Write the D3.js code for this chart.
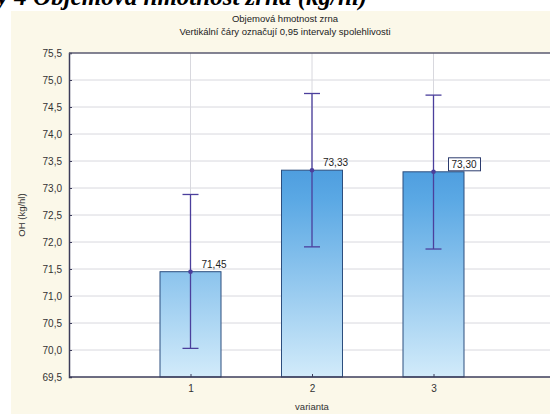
<!DOCTYPE html>
<html>
<head>
<meta charset="utf-8">
<script src="https://cdn.jsdelivr.net/npm/d3@7"></script>
<style>
  body { margin: 0; background: #fff; }
  svg { display: block; }
</style>
</head>
<body>
<script>
// data
const categories = [1, 2, 3];
const means = [71.45, 73.33, 73.30];
const lowerCI = [70.03, 71.91, 71.87];
const upperCI = [72.88, 74.75, 74.72];
const yTicks = [69.5, 70.0, 70.5, 71.0, 71.5, 72.0, 72.5, 73.0, 73.5, 74.0, 74.5, 75.0, 75.5];
const titleLines = ["Objemová hmotnost zrna", "Vertikální čáry označují 0,95 intervaly spolehlivosti"];
const headerText = "y 4 Objemová hmotnost zrna (kg/hl)";

// layout
const width = 550, height = 414;
const margin = { top: 53, left: 69, bottom: 37 };
const plotBottom = height - margin.bottom;

const svg = d3.select("body").append("svg")
  .attr("width", width)
  .attr("height", height);

const defs = svg.append("defs");
const grad = defs.append("linearGradient")
  .attr("id", "barGrad")
  .attr("gradientUnits", "userSpaceOnUse")
  .attr("x1", 0).attr("x2", 0)
  .attr("y1", margin.top).attr("y2", plotBottom);
grad.append("stop").attr("offset", "0%").attr("stop-color", "#1f74cc");
grad.append("stop").attr("offset", "45%").attr("stop-color", "#5aa8e4");
grad.append("stop").attr("offset", "100%").attr("stop-color", "#d2ebfa");

// beige panel
svg.append("rect")
  .attr("x", 11).attr("y", 11)
  .attr("width", width - 11).attr("height", height - 11)
  .attr("fill", "#fbf8e9");

// header (cut off at top)
svg.append("text")
  .attr("x", -3).attr("y", 5)
  .attr("font-family", "Liberation Serif, Times New Roman, serif")
  .attr("font-weight", "bold")
  .attr("font-style", "italic")
  .attr("font-size", 25)
  .attr("fill", "#000")
  .text(headerText);

// title
svg.selectAll("text.title")
  .data(titleLines)
  .join("text")
  .attr("class", "title")
  .attr("x", 285)
  .attr("y", (d, i) => 22 + i * 13)
  .attr("text-anchor", "middle")
  .attr("font-family", "Liberation Sans Narrow, Arial, sans-serif")
  .attr("font-size", 9.5)
  .attr("fill", "#222")
  .text(d => d);

// scales
const x = d3.scaleLinear().domain([0, 4]).range([margin.left, margin.left + 486]);
const y = d3.scaleLinear().domain([69.5, 75.5]).range([plotBottom, margin.top]);
const barW = 61;
const fmt = v => d3.format(".2f")(v).replace(".", ",");
const fmtTick = v => d3.format(".1f")(v).replace(".", ",");

// plot background
svg.append("rect")
  .attr("x", margin.left).attr("y", margin.top)
  .attr("width", width - margin.left).attr("height", plotBottom - margin.top)
  .attr("fill", "#fff");

// grid
svg.append("g")
  .selectAll("line")
  .data(yTicks.slice(1, -1))
  .join("line")
  .attr("x1", margin.left).attr("x2", width)
  .attr("y1", d => y(d)).attr("y2", d => y(d))
  .attr("stroke", "#d8d8de").attr("stroke-width", 1);

svg.append("g")
  .selectAll("line")
  .data(categories)
  .join("line")
  .attr("x1", d => x(d)).attr("x2", d => x(d))
  .attr("y1", margin.top).attr("y2", plotBottom)
  .attr("stroke", "#d8d8de").attr("stroke-width", 1);

// bars
svg.append("g")
  .selectAll("rect")
  .data(categories)
  .join("rect")
  .attr("x", d => x(d) - barW / 2)
  .attr("width", barW)
  .attr("y", (d, i) => y(means[i]))
  .attr("height", (d, i) => plotBottom - y(means[i]))
  .attr("fill", "url(#barGrad)")
  .attr("stroke", "#2c4e7e")
  .attr("stroke-width", 1);

// error bars
const errColor = "#4b3f9c";
const eb = svg.append("g").attr("stroke", errColor).attr("stroke-width", 1.3);
eb.selectAll("line.v")
  .data(categories)
  .join("line")
  .attr("class", "v")
  .attr("x1", d => x(d)).attr("x2", d => x(d))
  .attr("y1", (d, i) => y(upperCI[i])).attr("y2", (d, i) => y(lowerCI[i]));
eb.selectAll("line.capT")
  .data(categories)
  .join("line")
  .attr("class", "capT")
  .attr("x1", d => x(d) - 8).attr("x2", d => x(d) + 8)
  .attr("y1", (d, i) => y(upperCI[i])).attr("y2", (d, i) => y(upperCI[i]));
eb.selectAll("line.capB")
  .data(categories)
  .join("line")
  .attr("class", "capB")
  .attr("x1", d => x(d) - 8).attr("x2", d => x(d) + 8)
  .attr("y1", (d, i) => y(lowerCI[i])).attr("y2", (d, i) => y(lowerCI[i]));
svg.append("g")
  .selectAll("circle")
  .data(categories)
  .join("circle")
  .attr("cx", d => x(d))
  .attr("cy", (d, i) => y(means[i]))
  .attr("r", 2.3)
  .attr("fill", errColor);

// value labels
const labels = svg.append("g")
  .attr("font-family", "Liberation Sans, Arial, sans-serif")
  .attr("font-size", 10)
  .attr("fill", "#222");
categories.forEach((c, i) => {
  const lx = x(c) + 4, ly = y(means[i]) - 4;
  if (i === 2) {
    labels.append("rect")
      .attr("x", lx + 11).attr("y", ly - 10)
      .attr("width", 32).attr("height", 13)
      .attr("fill", "#fff")
      .attr("stroke", "#2c3c6e")
      .attr("stroke-width", 1);
    labels.append("text").attr("x", lx + 14).attr("y", ly).text(fmt(means[i]));
  } else {
    labels.append("text").attr("x", lx + 7).attr("y", ly).text(fmt(means[i]));
  }
});

// y axis
const yAxis = svg.append("g")
  .attr("transform", `translate(${margin.left},0)`)
  .call(d3.axisLeft(y).tickValues(yTicks).tickSize(-3).tickPadding(7).tickFormat(fmtTick));
yAxis.select(".domain").attr("stroke", "#3c3c5a").attr("stroke-width", 1.5);
yAxis.selectAll(".tick line").attr("stroke", "#3c3c5a");
yAxis.selectAll("text")
  .attr("font-family", "Liberation Sans Narrow, Arial, sans-serif")
  .attr("font-size", 10).attr("fill", "#333");

// top frame line
svg.append("line")
  .attr("x1", margin.left).attr("x2", width)
  .attr("y1", margin.top).attr("y2", margin.top)
  .attr("stroke", "#5a5a70").attr("stroke-width", 1.5);

// x axis
const xAxis = svg.append("g")
  .attr("transform", `translate(0,${plotBottom})`)
  .call(d3.axisBottom(x).tickValues(categories).tickSize(-3).tickPadding(8).tickFormat(d3.format("d")));
xAxis.select(".domain").remove();
xAxis.selectAll(".tick line").attr("stroke", "#3c3c5a");
xAxis.selectAll("text")
  .attr("font-family", "Liberation Sans, Arial, sans-serif")
  .attr("font-size", 10).attr("fill", "#333");
svg.append("line")
  .attr("x1", margin.left).attr("x2", width)
  .attr("y1", plotBottom).attr("y2", plotBottom)
  .attr("stroke", "#3c3c5a").attr("stroke-width", 1.5);

// axis titles
svg.append("text")
  .attr("x", x(2)).attr("y", 410)
  .attr("text-anchor", "middle")
  .attr("font-family", "Liberation Sans Narrow, Arial, sans-serif")
  .attr("font-size", 9.5).attr("fill", "#333")
  .text("varianta");
svg.append("text")
  .attr("transform", `translate(25,${(margin.top + plotBottom) / 2}) rotate(-90)`)
  .attr("text-anchor", "middle")
  .attr("font-family", "Liberation Sans Narrow, Arial, sans-serif")
  .attr("font-size", 9.5).attr("fill", "#333")
  .text("OH (kg/hl)");
</script>
</body>
</html>
